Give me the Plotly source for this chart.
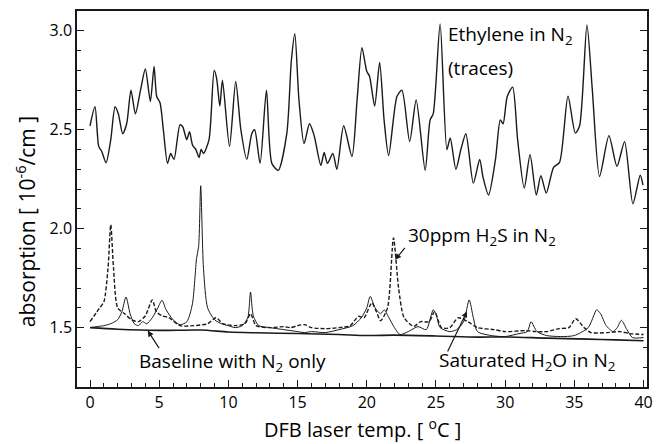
import plotly.graph_objects as go

# Ethylene in N2 (traces)
eth_t = [0, 0.36, 0.63, 0.85, 1.16, 1.5, 1.81, 2.05, 2.36, 2.65, 2.96, 3.28, 3.65, 4.0, 4.36,
         4.63, 4.82, 5.06, 5.3, 5.6, 5.83, 6.07, 6.5, 6.7, 6.99, 7.19, 7.42, 7.65, 7.88, 8.03,
         8.2, 8.6, 8.97, 9.15, 9.38, 9.57, 10.08, 10.53, 10.9, 11.33, 11.69, 11.9, 12.29, 12.75,
         13.14, 13.6, 14.22, 14.55, 14.8, 15.1, 15.47, 15.86, 16.2, 16.68, 16.92, 17.16, 17.55,
         17.84, 18.33, 18.93, 19.3, 19.65, 20.0, 20.2, 20.57, 20.93, 21.25, 21.58, 22.18, 22.54,
         23.1, 23.57, 24.22, 24.58, 24.8, 25.3, 25.79, 26.03, 26.44, 26.8, 27.16, 27.7, 28.16,
         28.4, 28.8, 29.3, 29.65, 29.85, 30.15, 30.54, 30.9, 31.38, 31.8, 32.25, 32.58, 32.97,
         33.5, 33.93, 34.54, 35.07, 35.38, 35.91, 36.3, 36.82, 37.5, 38.08, 38.63, 39.23, 39.76,
         39.96]
eth_v = [2.52, 2.616, 2.416, 2.39, 2.333, 2.45, 2.616, 2.58, 2.48, 2.53, 2.70, 2.58, 2.70, 2.807, 2.643,
         2.82, 2.668, 2.636, 2.50, 2.33, 2.38, 2.35, 2.525, 2.515, 2.45, 2.49, 2.42, 2.40, 2.36, 2.40,
         2.38, 2.45, 2.80, 2.76, 2.62, 2.75, 2.416, 2.744, 2.50, 2.35, 2.48, 2.50, 2.33, 2.70,
         2.33, 2.295, 2.48, 2.85, 2.985, 2.65, 2.43, 2.53, 2.47, 2.32, 2.385, 2.33, 2.38,
         2.30, 2.52, 2.365, 2.65, 2.915, 2.795, 2.77, 2.62, 2.84, 2.55, 2.37, 2.668, 2.70,
         2.44, 2.65, 2.295, 2.55, 2.58, 3.035, 2.40, 2.458, 2.30, 2.40, 2.48, 2.23, 2.35,
         2.26, 2.17, 2.35, 2.55, 2.53, 2.668, 2.715, 2.45, 2.205, 2.374, 2.17, 2.268, 2.18,
         2.31, 2.335, 2.67, 2.483, 2.52, 3.03, 2.70, 2.264, 2.47, 2.315, 2.44, 2.126, 2.27,
         2.22]

# Saturated H2O in N2
h2o_t = [0, 0.5, 1.0, 1.5, 2.0, 2.3, 2.6, 2.9, 3.2, 3.5, 3.8, 4.1, 4.5, 4.9, 5.2, 5.5, 6.0, 6.5,
         7.0, 7.4, 7.7, 7.85, 8.0, 8.2, 8.5, 9.0, 9.5, 10.0, 10.5, 11.0, 11.4, 11.6, 11.8, 12.2,
         13.0, 14.0, 15.0, 15.5, 16.0, 17.0, 18.0, 19.0, 19.6, 20.0, 20.25, 20.6, 21.0, 21.26,
         21.6, 22.0, 22.4, 23.0, 23.7, 24.3, 24.8, 25.0, 25.3, 26.0, 26.5, 27.0, 27.4, 27.7,
         28.0, 29.0, 30.0, 31.0, 31.6, 31.87, 32.3, 33.0, 34.0, 35.0, 36.0, 36.4, 36.6, 36.9,
         37.3, 37.8, 38.1, 38.4, 38.8, 39.2, 40.0]
h2o_v = [1.50, 1.505, 1.51, 1.52, 1.54, 1.58, 1.655, 1.57, 1.52, 1.51, 1.53, 1.52, 1.55, 1.60, 1.638, 1.59, 1.54, 1.515,
         1.53, 1.62, 1.85, 1.91, 2.217, 1.80, 1.60, 1.54, 1.52, 1.51, 1.50, 1.51, 1.55, 1.68, 1.56, 1.51,
         1.50, 1.49, 1.48, 1.475, 1.48, 1.475, 1.49, 1.51, 1.55, 1.60, 1.658, 1.60, 1.57, 1.59,
         1.55, 1.50, 1.465, 1.48, 1.505, 1.49, 1.59, 1.57, 1.50, 1.48, 1.49, 1.53, 1.64, 1.55,
         1.48, 1.46, 1.455, 1.47, 1.48, 1.53, 1.48, 1.46, 1.455, 1.46, 1.50, 1.56, 1.59, 1.57,
         1.51, 1.48, 1.50, 1.537, 1.49, 1.45, 1.45]

# 30ppm H2S in N2
h2s_t = [0, 0.5, 0.7, 1.0, 1.3, 1.5, 1.7, 2.0, 2.5, 3.0, 3.5, 4.0, 4.5, 4.8, 5.2, 5.7, 6.5, 7.5,
         8.5, 9.1, 9.6, 10.5, 11.2, 11.6, 12.0, 13.0, 14.0, 14.5, 15.0, 15.5, 16.0, 17.0, 18.0,
         18.8, 19.4, 19.8, 20.36, 20.7, 21.0, 21.5, 21.93, 22.3, 22.7, 23.4, 23.9, 24.5, 24.9,
         25.4, 26.0, 26.6, 27.3, 28.0, 29.2, 30.0, 31.5, 32.2, 33.0, 33.9, 34.6, 35.1, 35.7,
         36.2, 37.4, 38.3, 39.0, 40.0]
h2s_v = [1.53, 1.58, 1.60, 1.63, 1.80, 2.02, 1.80, 1.60, 1.57, 1.54, 1.53, 1.56, 1.64, 1.58, 1.56, 1.55, 1.51, 1.51,
         1.52, 1.55, 1.52, 1.51, 1.52, 1.57, 1.51, 1.50, 1.505, 1.50, 1.51, 1.515, 1.50, 1.495, 1.50,
         1.51, 1.557, 1.55, 1.625, 1.58, 1.535, 1.60, 1.953, 1.70, 1.55, 1.507, 1.53, 1.53, 1.58,
         1.50, 1.50, 1.55, 1.53, 1.50, 1.49, 1.48, 1.485, 1.48, 1.48, 1.495, 1.50, 1.545, 1.50,
         1.475, 1.475, 1.48, 1.47, 1.465]

# Baseline with N2 only
base_t = [0, 2, 5, 8, 10, 12, 15, 18, 20, 22, 25, 28, 30, 33, 36, 38, 40]
base_v = [1.50, 1.492, 1.486, 1.488, 1.478, 1.474, 1.47, 1.465, 1.46, 1.462, 1.458, 1.452, 1.453, 1.447, 1.442, 1.438, 1.434]

x_ticks = [0, 5, 10, 15, 20, 25, 30, 35, 40]
y_ticks = [1.5, 2.0, 2.5, 3.0]
y_tick_text = ["1.5", "2.0", "2.5", "3.0"]

FONT = "Open Sans"
LC = "#1a1a1a"

fig = go.Figure()
fig.add_trace(go.Scatter(x=eth_t, y=eth_v, mode="lines",
                         line=dict(color=LC, width=1.4, shape="spline", smoothing=0.7)))
fig.add_trace(go.Scatter(x=base_t, y=base_v, mode="lines",
                         line=dict(color=LC, width=1.6, shape="spline", smoothing=0.8)))
fig.add_trace(go.Scatter(x=h2o_t, y=h2o_v, mode="lines",
                         line=dict(color=LC, width=1.0, shape="spline", smoothing=0.7)))
fig.add_trace(go.Scatter(x=h2s_t, y=h2s_v, mode="lines",
                         line=dict(color=LC, width=1.4, dash="4px,2px", shape="spline", smoothing=0.7)))

ann_font = dict(family=FONT, size=19, color="black")
annotations = [
    dict(x=25.8, y=2.98, text="Ethylene in N<sub>2</sub>", xanchor="left", yanchor="middle"),
    dict(x=25.8, y=2.813, text="(traces)", xanchor="left", yanchor="middle"),
    dict(x=22.9, y=1.965, text="30ppm H<sub>2</sub>S in N<sub>2</sub>", xanchor="left", yanchor="middle"),
    dict(x=31.6, y=1.33, text="Saturated H<sub>2</sub>O in N<sub>2</sub>", xanchor="center", yanchor="middle"),
    dict(x=10.3, y=1.325, text="Baseline with N<sub>2</sub> only", xanchor="center", yanchor="middle"),
]
for a in annotations:
    a.update(xref="x", yref="y", showarrow=False, font=ann_font, align="left", borderpad=0)

arrows = [
    dict(x=4.17, y=1.485, ax=5.06, ay=1.389),
    dict(x=22.05, y=1.843, ax=22.85, ay=1.91),
    dict(x=27.24, y=1.582, ax=25.79, ay=1.372),
]
for a in arrows:
    annotations.append(dict(x=a["x"], y=a["y"], ax=a["ax"], ay=a["ay"], xref="x", yref="y",
                            axref="x", ayref="y", text="", showarrow=True, arrowhead=2,
                            arrowsize=1, arrowwidth=1.2, arrowcolor=LC))

# axis titles as annotations (positioned like the reference)
annotations.append(dict(text="absorption [ 10<sup>-6</sup>/cm ]", xref="paper", yref="paper",
                        x=-0.09, y=0.44, xanchor="center", yanchor="middle", textangle=-90,
                        showarrow=False, font=dict(family=FONT, size=21, color="black")))
annotations.append(dict(text="DFB laser temp. [ <sup>o</sup>C ]", xref="paper", yref="paper",
                        x=0.5, y=-0.11, xanchor="center", yanchor="middle", borderpad=0,
                        showarrow=False, font=dict(family=FONT, size=20, color="black")))

fig.update_layout(
    width=657, height=444,
    margin=dict(l=77, r=10, t=11, b=57),
    paper_bgcolor="white", plot_bgcolor="white",
    showlegend=False,
    font=dict(family=FONT, size=16, color="black"),
    annotations=annotations,
)
fig.update_xaxes(
    range=[-0.94, 40.25], tickvals=x_ticks, ticks="inside", ticklen=7, tickwidth=1.2,
    tickcolor=LC, showline=True, linecolor=LC, linewidth=1.5, mirror=True, showgrid=False,
    zeroline=False, tickfont=dict(family=FONT, size=16), automargin=False,
    minor=dict(dtick=1, ticks="inside", ticklen=4, tickcolor=LC, tickwidth=1),
)
fig.update_yaxes(
    range=[1.2, 3.1], tickvals=y_ticks, ticktext=y_tick_text, ticks="inside", ticklen=7,
    tickwidth=1.2, tickcolor=LC, showline=True, linecolor=LC, linewidth=1.5, mirror="ticks",
    showgrid=False, zeroline=False, tickfont=dict(family=FONT, size=16), automargin=False,
    minor=dict(dtick=0.1, tick0=1.2, ticks="inside", ticklen=4, tickcolor=LC, tickwidth=1),
)

fig.write_html("out.html")
